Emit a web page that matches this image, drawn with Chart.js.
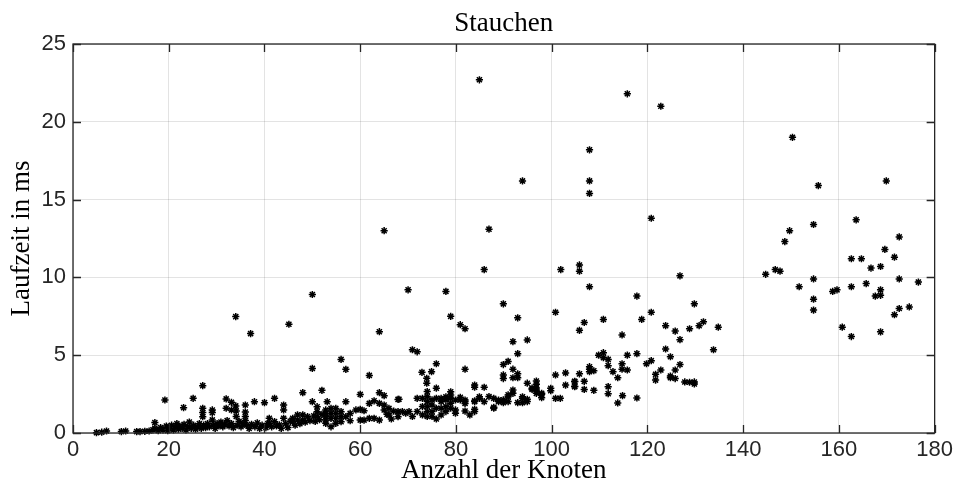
<!DOCTYPE html>
<html>
<head>
<meta charset="utf-8">
<script src="https://cdn.jsdelivr.net/npm/chart.js@4"></script>
<style>
  html, body { margin: 0; padding: 0; background: #fff; }
  canvas { display: block; }
</style>
</head>
<body>
<canvas id="laufzeitChart" width="957" height="499"></canvas>
<script>
// Achsen
const xTicks = [0, 20, 40, 60, 80, 100, 120, 140, 160, 180];
const yTicks = [0, 5, 10, 15, 20, 25];

// Messpunkte [Anzahl der Knoten, Laufzeit in ms]
const punkteBis36 = [
    [4.9,0.02],[6,0.05],[7,0.13],[10.1,0.09],[11,0.13],[13.3,0.09],[14,0.09],[15,0.11],[15.9,0.13],
    [16.7,0.2],[17.1,0.67],[17.1,0.3],[17.8,0.15],[18.3,0.35],[18.8,0.2],[19.2,2.12],[19.5,0.45],
    [19.8,0.15],[20.2,0.3],[20.6,0.5],[21,0.2],[21.3,0.4],[21.7,0.6],[22,0.25],[22.3,0.45],[22.8,0.3],
    [23.1,1.63],[23.2,0.55],[23.6,0.2],[24,0.4],[24.3,0.7],[24.7,0.3],[25.1,2.23],[25.2,0.5],[25.6,0.25],
    [26,0.4],[26.4,0.6],[26.8,0.3],[27.1,3.04],[27.1,1.59],[27.1,1.31],[27.1,1.05],[27.3,0.5],[27.7,0.35],
    [28.1,0.6],[28.5,0.4],[29.1,1.48],[29.1,1.31],[29.1,0.84],[29.3,0.5],[29.7,0.3],[30.1,0.6],[30.5,0.45],
    [30.9,0.7],[31.3,0.4],[31.7,0.55],[32,2.19],[32,1.59],[32.2,0.8],[32.6,0.45],[33.1,1.97],[33.1,1.48],
    [33.1,0.6],[33.5,0.35],[34,7.48],[34,1.74],[34.1,1.42],[34.1,1.06],[34.3,0.5],[34.7,0.75],[35.1,0.4],
    [35.5,0.6],[36,1.8],[36,1.35],[36,1.06],[36,0.8],[36.2,0.5]
];

const punkte36bis68 = [
    [37.1,6.39],[36.8,0.3],[37.3,0.55],[37.9,2.01],[38,0.4],[38.5,0.65],[39,0.3],[39.5,0.5],[40,1.95],
    [40.3,0.35],[40.7,0.6],[41,0.94],[41,0.62],[41.5,0.4],[42.1,2.23],[42.1,0.73],[42.5,0.45],[43.1,0.52],
    [43.5,0.3],[44,1.8],[44,1.48],[44,0.94],[44.4,0.6],[44.9,0.35],[45.1,6.99],[45.4,0.75],[45.9,0.94],
    [45.9,0.72],[46.4,0.5],[46.9,1.16],[46.9,0.83],[47.4,0.6],[48,2.59],[48,1.16],[48,0.83],[48.5,0.7],
    [49,1.05],[49.5,0.8],[50,8.9],[50,4.15],[50,2.01],[50.3,1.1],[50.6,0.75],[51,1.69],[51,1.37],[51,1.05],
    [51.5,0.85],[52,2.74],[52,1.2],[52.8,1.48],[52.8,1.26],[52.8,1.05],[52.8,0.83],[52.8,0.62],[53.1,2.01],
    [53.9,1.58],[53.9,1.26],[53.9,0.94],[53.9,0.4],[54.9,1.58],[54.9,1.26],[54.9,0.94],[54.9,0.62],
    [56,4.73],[56,1.37],[56,1.05],[56,0.73],[57,4.09],[57,2.01],[57,1.05],[57.9,1.26],[57.9,0.79],
    [59.1,1.48],[60,2.48],[60,1.52],[60,0.83],[60.8,1.43],[60.8,0.83],[61.9,3.7],[61.9,1.9],[61.9,0.94],
    [62.9,2.07],[62.9,0.94],[64,6.51],[64,2.59],[64,1.9],[64,0.83],[65,13.0],[65,2.4],[65,1.8],[65,1.48],
    [65.6,1.2],[66,1.58],[66,1.16],[66.5,0.9],[67,1.4],[67.9,2.16],[67.9,1.37],[67.9,1.05]
];

const punkte68bis104 = [
    [68.1,2.17],[68.8,1.38],[69.5,1.27],[70,9.2],[70.2,1.38],[70.9,5.35],[70.9,1.06],[71.9,5.22],[71.9,2.23],
    [71.9,1.38],[72.9,3.9],[73,1.7],[73,2.23],[73,1.16],[73.9,3.52],[73.9,3.2],[74,2.66],[74,2.34],[74,2.02],
    [74,1.7],[74,1.38],[74,1.06],[74.9,3.94],[75,2.13],[75,1.8],[75,1.38],[75,1.06],[75.9,4.45],[75.9,2.88],
    [75.9,2.23],[75.9,1.59],[75.9,0.9],[76.9,2.23],[76.9,2.02],[76.9,1.59],[76.9,1.16],[77.9,9.1],[77.9,2.33],
    [77.9,2.13],[77.9,1.7],[77.9,1.38],[78.9,7.5],[78.9,2.65],[78.9,2.44],[78.9,2.23],[78.9,1.91],[78.9,1.59],
    [79.9,2.12],[79.9,1.48],[79.9,1.27],[80.9,6.96],[80.9,2.29],[80.9,2.13],[81.9,6.7],[81.9,4.1],[81.9,2.12],
    [81.9,2.02],[81.9,1.9],[81.9,1.41],[82.9,1.16],[83.9,3.08],[83.9,2.94],[83.9,2.06],[83.9,2.02],[83.9,1.52],
    [83.9,1.38],[84.9,22.7],[84.9,2.33],[84.9,2.23],[85.9,10.5],[85.9,2.94],[85.9,2.02],[86.9,13.1],[86.9,2.34],
    [87.9,2.23],[87.9,1.65],[87.9,1.59],[88.9,2.12],[88.9,2.02],[89.9,8.3],[89.9,4.4],[89.9,3.73],[89.9,3.5],
    [89.9,2.13],[89.9,1.95],[90.9,4.6],[90.9,2.45],[90.9,2.33],[90.9,2.02],[91.9,5.87],[91.9,4.1],[91.9,3.55],
    [91.9,2.76],[91.9,2.55],[92.9,7.4],[92.9,5.1],[92.9,3.8],[92.9,3.55],[92.9,1.95],[93.9,16.2],[93.9,2.33],
    [93.9,2.23],[93.9,1.95],[94.9,5.98],[94.9,3.2],[94.9,2.17],[94.9,2.02],[95.9,2.88],[95.9,2.8],[96.8,3.34],
    [96.8,3.13],[96.8,2.9],[96.8,2.77],[96.8,2.55],[97.9,2.55],[97.9,2.49],[97.9,2.27],[99.8,2.87],[99.8,2.72],
    [100.8,7.76],[100.8,3.73],[100.8,2.23],[101.8,2.23],[101.9,10.5],[102.9,3.86],[102.9,3.08],[104.8,3.3],[104.8,3.0]
];

const punkte104bis135 = [
    [104.8,3.32],[104.8,2.98],[105.8,10.8],[105.8,10.4],[105.8,6.6],[105.8,3.8],[106.8,7.1],[106.8,3.32],
    [106.8,2.8],[107.9,18.2],[107.9,16.2],[107.9,15.4],[107.9,9.4],[107.9,4.26],[107.9,4.1],[107.9,3.94],
    [108.8,4.0],[108.8,2.74],[109.8,5.0],[110.8,7.3],[110.8,5.16],[110.8,4.84],[111.8,4.73],[111.8,4.33],
    [111.8,2.98],[111.8,2.53],[112.8,3.94],[113.8,3.55],[113.8,1.93],[114.7,6.3],[114.7,4.45],[114.7,4.1],
    [114.8,2.4],[115.8,21.8],[115.8,5.0],[115.8,4.05],[117.8,8.8],[117.8,5.1],[117.8,2.25],[118.8,7.3],
    [119.8,4.45],[120.8,13.8],[120.8,7.76],[120.8,4.65],[121.7,3.77],[121.7,3.4],[122.8,21.0],[122.8,4.05],
    [123.8,6.9],[123.8,5.4],[124.8,4.9],[124.8,3.66],[124.8,3.55],[125.8,6.55],[125.8,4.05],[125.8,3.5],
    [126.8,10.1],[126.8,6.0],[126.8,4.4],[127.8,3.28],[128.8,6.7],[128.8,3.26],[129.8,8.3],[129.8,3.28],
    [129.8,3.15],[130.8,6.9],[131.7,7.15],[133.8,5.35],[134.8,6.8]
];

const punkteAb140 = [
    [144.7,10.2],[146.7,10.5],[147.7,10.4],[148.7,12.3],[149.7,13.0],[150.3,19.0],[151.7,9.4],[154.7,13.4],
    [154.7,9.9],[154.7,8.6],[154.7,7.9],[155.7,15.9],[158.7,9.1],[159.6,9.2],[160.7,6.8],[162.6,11.2],
    [162.6,9.4],[162.6,6.2],[163.6,13.7],[164.7,11.2],[165.7,9.6],[166.7,10.6],[167.6,8.8],[168.7,10.7],
    [168.7,9.2],[168.7,8.85],[168.7,6.5],[169.6,11.8],[169.9,16.2],[171.6,11.3],[171.6,7.6],[172.6,12.6],
    [172.6,9.9],[172.6,8.0],[174.7,8.1],[176.6,9.7]
];

const messpunkte = [...punkteBis36, ...punkte36bis68, ...punkte68bis104, ...punkte104bis135, ...punkteAb140]
    .map(p => ({ x: p[0], y: p[1] }));

const achsFarbe = '#262626';
const serif = '"Liberation Serif", "Times New Roman", serif';
const sans = '"Liberation Sans", Arial, Helvetica, sans-serif';

// Kasten mit Ticks nach innen und Titel, wie bei MATLAB
const rahmenPlugin = {
    id: 'rahmen',
    afterDraw(chart) {
        const { ctx, chartArea: a, scales: { x, y } } = chart;
        ctx.save();
        ctx.strokeStyle = achsFarbe;
        ctx.lineWidth = 1.3;
        ctx.strokeRect(a.left, a.top, a.right - a.left, a.bottom - a.top);
        ctx.beginPath();
        xTicks.forEach(v => {
            const px = Math.round(x.getPixelForValue(v)) + 0.5;
            ctx.moveTo(px, a.bottom); ctx.lineTo(px, a.bottom - 8);
            ctx.moveTo(px, a.top); ctx.lineTo(px, a.top + 8);
        });
        yTicks.forEach(v => {
            const py = Math.round(y.getPixelForValue(v)) + 0.5;
            ctx.moveTo(a.left, py); ctx.lineTo(a.left + 8, py);
            ctx.moveTo(a.right, py); ctx.lineTo(a.right - 8, py);
        });
        ctx.stroke();

        ctx.fillStyle = '#000';
        ctx.font = '27px ' + serif;
        ctx.textAlign = 'center';
        ctx.textBaseline = 'alphabetic';
        ctx.fillText('Stauchen', (a.left + a.right) / 2, 31);
        ctx.restore();
    }
};

new Chart(document.getElementById('laufzeitChart'), {
    type: 'scatter',
    data: {
        datasets: [{
            data: messpunkte,
            pointStyle: 'star',
            pointRadius: 3.6,
            borderColor: '#000',
            backgroundColor: '#000',
            borderWidth: 1.5,
            clip: false
        }]
    },
    options: {
        responsive: false,
        animation: false,
        events: [],
        layout: { padding: { top: 44, right: 20, left: 6, bottom: 12 } },
        plugins: { legend: { display: false }, tooltip: { enabled: false } },
        scales: {
            x: {
                type: 'linear', min: 0, max: 180,
                afterBuildTicks: s => { s.ticks = xTicks.map(v => ({ value: v })); },
                afterFit: s => { s.height = 54; },
                grid: { color: 'rgba(38,38,38,0.13)', lineWidth: 1, drawTicks: false },
                border: { display: false },
                ticks: { color: achsFarbe, font: { family: sans, size: 22 }, padding: 4, maxRotation: 0 },
                title: { display: true, text: 'Anzahl der Knoten', color: '#000', font: { family: serif, size: 27 }, padding: 0 }
            },
            y: {
                type: 'linear', min: 0, max: 25,
                afterBuildTicks: s => { s.ticks = yTicks.map(v => ({ value: v })); },
                afterFit: s => { s.width = 67; },
                grid: { color: 'rgba(38,38,38,0.13)', lineWidth: 1, drawTicks: false },
                border: { display: false },
                ticks: { color: achsFarbe, font: { family: sans, size: 22 }, padding: 7 },
                title: { display: true, text: 'Laufzeit in ms', color: '#000', font: { family: serif, size: 27 }, padding: 0 }
            }
        }
    },
    plugins: [rahmenPlugin]
});
</script>
</body>
</html>
